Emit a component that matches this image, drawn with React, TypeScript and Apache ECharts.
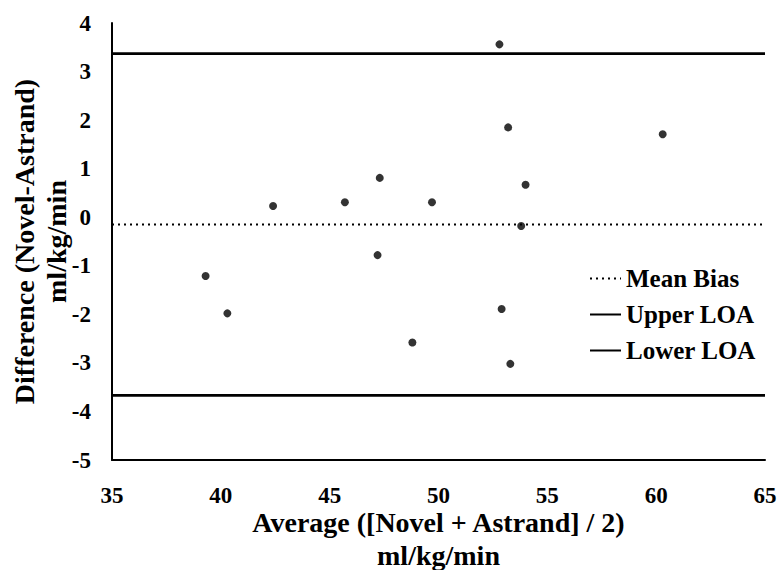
import React, { useEffect, useRef } from "react";
import * as echarts from "echarts";

const averages = [47.3, 42.4, 45.7, 49.7, 47.2, 39.3, 52.8, 53.2, 60.3, 54.0, 53.8, 40.3, 48.8, 52.9, 53.3];
const differences = [0.81, 0.23, 0.31, 0.31, -0.78, -1.21, 3.56, 1.85, 1.71, 0.67, -0.18, -1.98, -2.58, -1.89, -3.02];
const meanBias = -0.15;
const upperLOA = 3.37;
const lowerLOA = -3.67;
const xRange = [35, 65];
const yRange = [-5, 4];
const seriesNames = ["Mean Bias", "Upper LOA", "Lower LOA"];
const xTitle = "Average ([Novel + Astrand] / 2)\nml/kg/min";
const yTitle = "Difference (Novel-Astrand)\nml/kg/min";

const FONT = "Liberation Serif";

export default function App() {
  const ref = useRef<HTMLDivElement>(null);
  useEffect(() => {
    if (!ref.current) return;
    const chart = echarts.init(ref.current, undefined, { renderer: "svg" });
    const points = averages.map((a, i) => [a, differences[i]]);
    const hline = (v: number) => [
      [xRange[0], v],
      [xRange[1], v],
    ];
    chart.setOption({
      animation: false,
      backgroundColor: "#ffffff",
      color: ["#000000"],
      grid: { left: 112, right: 15, top: 23, bottom: 110, containLabel: false, outerBoundsMode: "none" },
      legend: {
        data: seriesNames,
        orient: "vertical",
        left: 584,
        top: 261,
        itemWidth: 31,
        itemHeight: 14,
        itemGap: 11,
        itemStyle: { opacity: 0 },
        textStyle: { fontFamily: FONT, fontWeight: "bold", fontSize: 25, lineHeight: 25, color: "#000" },
      },
      xAxis: {
        type: "value",
        min: xRange[0],
        max: xRange[1],
        interval: 5,
        name: xTitle,
        nameLocation: "middle",
        nameGap: 46,
        nameMoveOverlap: false,
        nameTextStyle: { fontFamily: FONT, fontWeight: "bold", fontSize: 28, lineHeight: 33, color: "#000" },
        axisLine: { show: true, onZero: false, lineStyle: { color: "#000", width: 2 } },
        axisTick: { show: false },
        splitLine: { show: false },
        axisLabel: { fontFamily: FONT, fontWeight: "bold", fontSize: 23, color: "#000", margin: 24 },
      },
      yAxis: {
        type: "value",
        min: yRange[0],
        max: yRange[1],
        interval: 1,
        name: yTitle,
        nameLocation: "middle",
        nameRotate: 90,
        nameGap: 40,
        nameMoveOverlap: false,
        nameTextStyle: { fontFamily: FONT, fontWeight: "bold", fontSize: 28, lineHeight: 32, color: "#000" },
        axisLine: { show: true, onZero: false, lineStyle: { color: "#000", width: 2 } },
        axisTick: { show: false },
        splitLine: { show: false },
        axisLabel: { fontFamily: FONT, fontWeight: "bold", fontSize: 23, color: "#000", margin: 21 },
      },
      series: [
        {
          name: seriesNames[0],
          type: "line",
          data: hline(meanBias),
          symbol: "none",
          itemStyle: { color: "#000" },
          lineStyle: { color: "#000", width: 2, type: [2, 4] },
          z: 1,
        },
        {
          name: seriesNames[1],
          type: "line",
          data: hline(upperLOA),
          symbol: "none",
          itemStyle: { color: "#000" },
          lineStyle: { color: "#000", width: 2.7, type: "solid" },
          z: 1,
        },
        {
          name: seriesNames[2],
          type: "line",
          data: hline(lowerLOA),
          symbol: "none",
          itemStyle: { color: "#000" },
          lineStyle: { color: "#000", width: 2.7, type: "solid" },
          z: 1,
        },
        {
          name: "Data",
          type: "scatter",
          data: points,
          symbol: "circle",
          symbolSize: 8,
          itemStyle: { color: "#000" },
          z: 3,
        },
      ],
    });
    return () => chart.dispose();
  }, []);
  return (
    <div
      ref={ref}
      style={{ position: "fixed", left: 0, top: 0, width: 780, height: 570, background: "#fff" }}
    />
  );
}
